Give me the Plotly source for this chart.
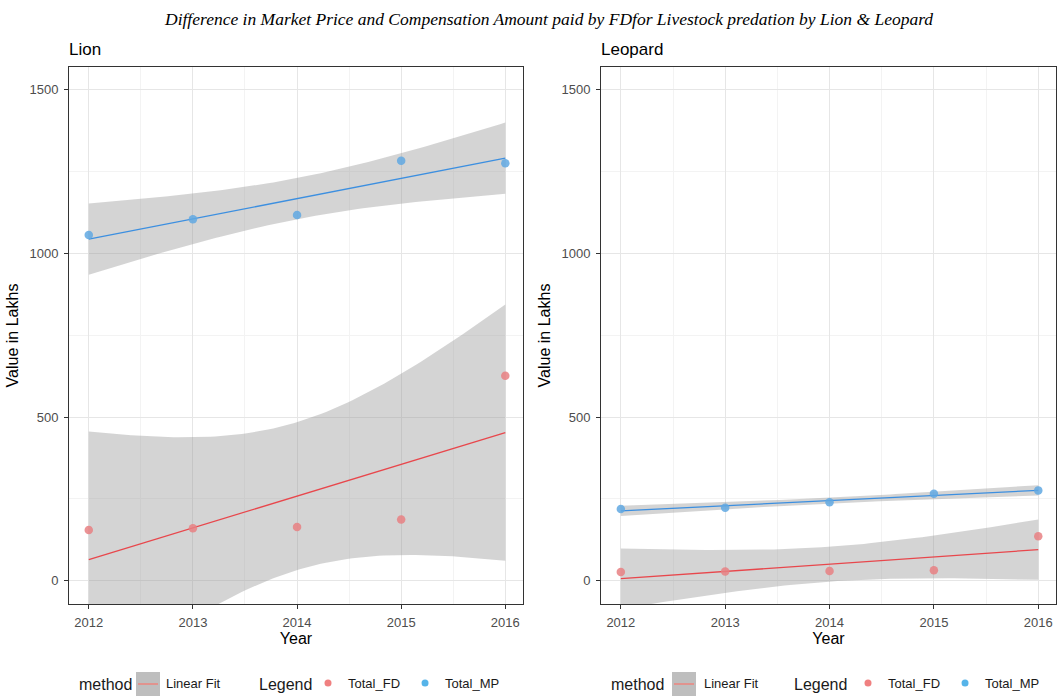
import numpy as np
import plotly.graph_objects as go

years = [2012, 2013, 2014, 2015, 2016]
lion_fd = [155, 160, 164, 187, 626]
lion_mp = [1056, 1104, 1117, 1283, 1275]
leo_fd = [27, 28, 30, 32, 136]
leo_mp = [219, 223, 240, 266, 276]
panel_titles = ["Lion", "Leopard"]
y_ticks = [0, 500, 1000, 1500]

FD_PT = "rgba(232,128,130,0.85)"
MP_PT = "rgba(96,168,226,0.85)"
FD_LN = "#E8474C"
MP_LN = "#3C8FE0"
RIB = "rgba(153,153,153,0.42)"
T975_DF3 = 3.182446305284263


def fit_band(x, y, n=80):
    x = np.asarray(x, float)
    y = np.asarray(y, float)
    b, a = np.polyfit(x, y, 1)
    resid = y - (a + b * x)
    dof = len(x) - 2
    s = np.sqrt(np.sum(resid ** 2) / dof)
    xs = np.linspace(x.min(), x.max(), n)
    fit = a + b * xs
    se = s * np.sqrt(1 / len(x) + (xs - x.mean()) ** 2 / np.sum((x - x.mean()) ** 2))
    return xs, fit, fit - T975_DF3 * se, fit + T975_DF3 * se


fig = go.Figure()

panels = [("x", "y", lion_fd, lion_mp, "legend", "legend2"),
          ("x2", "y2", leo_fd, leo_mp, "legend3", "legend4")]

for xa, ya, fd, mp, lg_m, lg_l in panels:
    for vals in (fd, mp):
        xs, fit, lo, hi = fit_band(years, vals)
        fig.add_trace(go.Scatter(
            x=np.concatenate([xs, xs[::-1]]), y=np.concatenate([hi, lo[::-1]]),
            fill="toself", fillcolor=RIB, line=dict(width=0, color="rgba(0,0,0,0)"),
            mode="lines", hoverinfo="skip", showlegend=False, xaxis=xa, yaxis=ya))
    for vals, col in ((fd, FD_LN), (mp, MP_LN)):
        xs, fit, lo, hi = fit_band(years, vals)
        fig.add_trace(go.Scatter(x=xs, y=fit, mode="lines", line=dict(color=col, width=1.3),
                                 showlegend=False, xaxis=xa, yaxis=ya))
    for vals, col, name in ((fd, FD_PT, "Total_FD"), (mp, MP_PT, "Total_MP")):
        fig.add_trace(go.Scatter(x=years, y=vals, mode="markers",
                                 marker=dict(color=col, size=8.5), name=name,
                                 showlegend=False, xaxis=xa, yaxis=ya))
    # legend entries (key box for "Linear Fit" drawn as shapes underneath)
    fig.add_trace(go.Scatter(x=[None], y=[None], mode="lines", name="Linear Fit",
                             line=dict(color="rgba(0,0,0,0)", width=1), legend=lg_m,
                             xaxis=xa, yaxis=ya))
    fig.add_trace(go.Scatter(x=[None], y=[None], mode="markers", name="Total_FD",
                             marker=dict(color="#F08080", size=7), legend=lg_l,
                             xaxis=xa, yaxis=ya))
    fig.add_trace(go.Scatter(x=[None], y=[None], mode="markers", name="Total_MP",
                             marker=dict(color="#56B4E9", size=7), legend=lg_l,
                             xaxis=xa, yaxis=ya))

W, H = 1058, 698
xl = [69 / W, 523 / W]
xr = [601 / W, 1056 / W]
yd = [1 - 604 / H, 1 - 67 / H]

axis_common = dict(
    showline=True, linecolor="#333333", linewidth=1, mirror=True,
    ticks="outside", ticklen=4, tickcolor="#333333",
    tickfont=dict(family="Liberation Sans, Arial", size=13, color="#4D4D4D"),
    gridcolor="#E6E6E6", gridwidth=1, zeroline=False,
    title_font=dict(family="Liberation Sans, Arial", size=16, color="#000000"),
)

xcommon = dict(axis_common, range=[2011.81, 2016.17], tickmode="array", tickvals=years,
               ticktext=[str(v) for v in years], ticklabelstandoff=2,
               minor=dict(tickvals=[2012.5, 2013.5, 2014.5, 2015.5], showgrid=True,
                          gridcolor="#F3F3F3", ticks=""),
               title=dict(text="Year", standoff=3))
ycommon = dict(axis_common, range=[-71, 1569], tickmode="array", tickvals=y_ticks,
               ticktext=[str(v) for v in y_ticks], ticklabelstandoff=3,
               minor=dict(tickvals=[250, 750, 1250], showgrid=True,
                          gridcolor="#F3F3F3", ticks=""),
               title=dict(text="Value in Lakhs", standoff=6))

leg_common = dict(orientation="h", yanchor="bottom", y=0.0, xanchor="left",
                  bgcolor="rgba(0,0,0,0)",
                  font=dict(family="Liberation Sans, Arial", size=13, color="#1A1A1A"),
                  itemwidth=30, tracegroupgap=0)

KEY_Y = 684
shapes = []
for x0 in (136, 672):
    shapes.append(dict(type="rect", xref="paper", yref="paper",
                       x0=x0 / W, x1=(x0 + 24) / W, y0=1 - (KEY_Y + 12) / H, y1=1 - (KEY_Y - 12) / H,
                       fillcolor="#BEBEBE", line=dict(width=0), layer="below"))
    shapes.append(dict(type="line", xref="paper", yref="paper",
                       x0=(x0 + 2) / W, x1=(x0 + 22) / W, y0=1 - KEY_Y / H, y1=1 - KEY_Y / H,
                       line=dict(color="#F8766D", width=1.2), layer="above"))

legend_titles = [("method", 77), ("Legend", 257), ("method", 609), ("Legend", 792)]
annotations = [
    dict(text="Difference in Market Price and Compensation Amount paid by FDfor Livestock predation by Lion & Leopard",
         x=548 / W, y=1 - 19 / H, xref="paper", yref="paper", showarrow=False,
         xanchor="center", yanchor="middle",
         font=dict(family="Liberation Serif, Times New Roman", size=17.5, color="#000000", style="italic")),
    dict(text=panel_titles[0], x=67 / W, y=1 - 50 / H, xref="paper", yref="paper",
         showarrow=False, xanchor="left", yanchor="middle",
         font=dict(family="Liberation Sans, Arial", size=17, color="#000000")),
    dict(text=panel_titles[1], x=599 / W, y=1 - 50 / H, xref="paper", yref="paper",
         showarrow=False, xanchor="left", yanchor="middle",
         font=dict(family="Liberation Sans, Arial", size=17, color="#000000")),
]
for txt, xp in legend_titles:
    annotations.append(dict(text=txt, x=xp / W, y=1 - KEY_Y / H, xref="paper", yref="paper",
                            showarrow=False, xanchor="left", yanchor="middle",
                            font=dict(family="Liberation Sans, Arial", size=16, color="#1A1A1A")))

fig.update_layout(
    width=W, height=H,
    margin=dict(l=0, r=0, t=0, b=0),
    paper_bgcolor="white", plot_bgcolor="white",
    xaxis=dict(xcommon, domain=xl, anchor="y"),
    yaxis=dict(ycommon, domain=yd, anchor="x"),
    xaxis2=dict(xcommon, domain=xr, anchor="y2"),
    yaxis2=dict(ycommon, domain=yd, anchor="x2"),
    legend=dict(leg_common, x=126 / W),
    legend2=dict(leg_common, x=308 / W),
    legend3=dict(leg_common, x=664 / W),
    legend4=dict(leg_common, x=848 / W),
    showlegend=True,
    shapes=shapes,
    annotations=annotations,
)

fig.write_html("out.html", config={"displayModeBar": False},
               post_script="document.body.style.margin='0';document.body.style.overflow='hidden';")
